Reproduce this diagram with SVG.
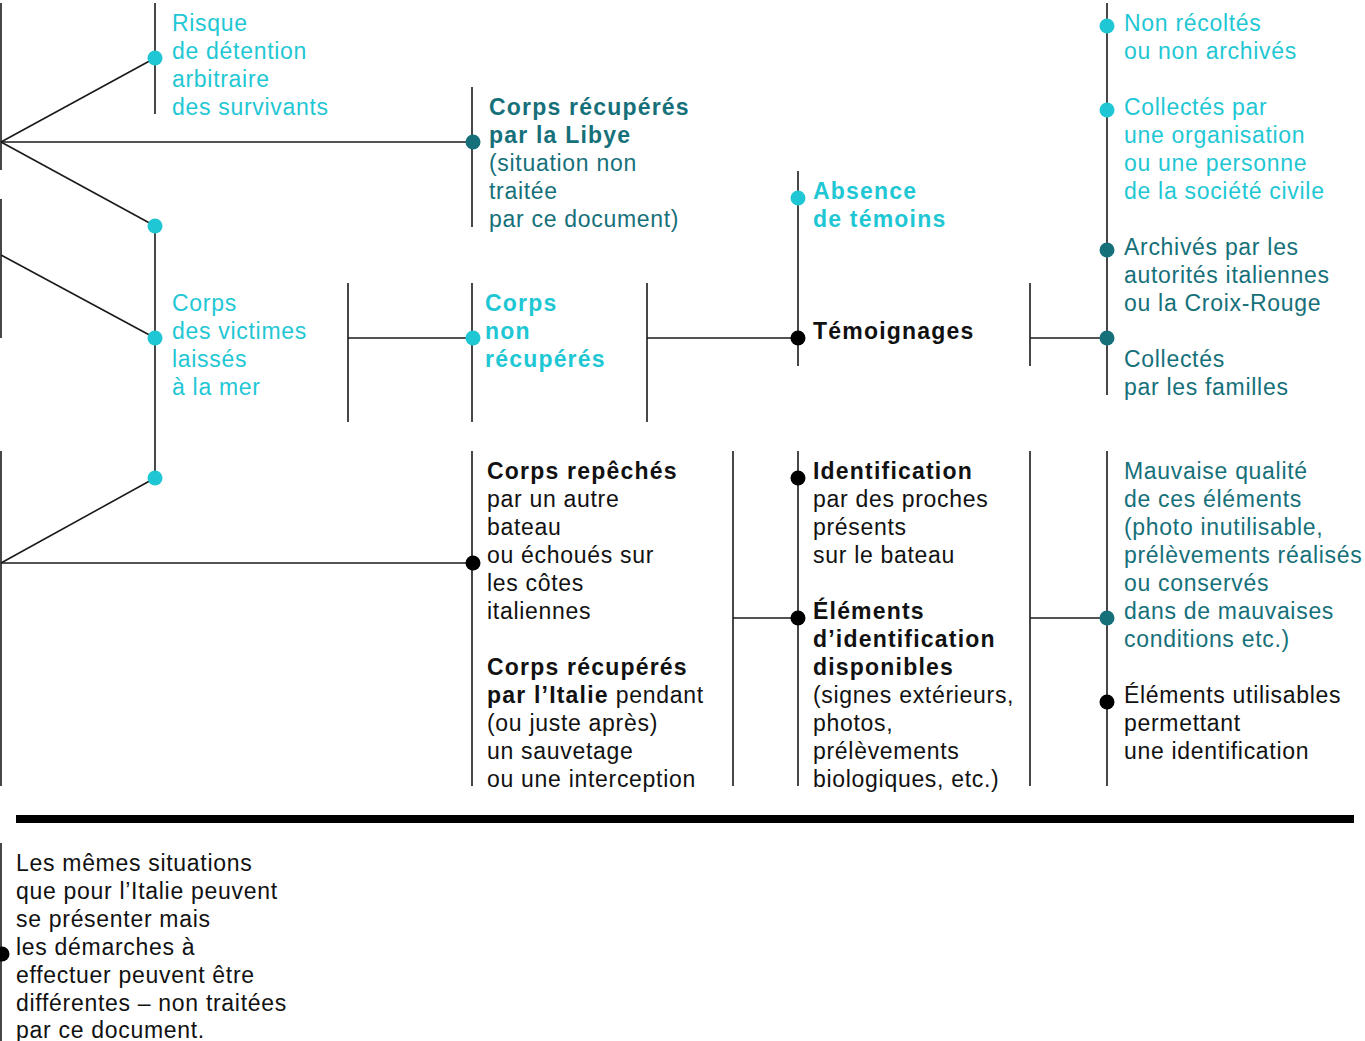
<svg xmlns="http://www.w3.org/2000/svg" width="1365" height="1041" viewBox="0 0 1365 1041">
<style>
  text { font-family: "Liberation Sans", Arial, sans-serif; font-size: 23px; letter-spacing: 0.7px; }
  .cy { fill: #1fc7d4; }
  .tl { fill: #16707a; }
  .bk { fill: #111111; }
  .b { font-weight: bold; letter-spacing: 1.2px; }
  .ln { stroke: #1a1a1a; stroke-width: 1.6; fill: none; }
  .dc { fill: #1fc7d4; }
  .dt { fill: #16707a; }
  .dk { fill: #000000; }
</style>
<rect width="1365" height="1041" fill="#ffffff"/>
<g id="connectors">
  <line class="ln" x1="1" y1="3" x2="1" y2="170"/>
  <line class="ln" x1="1" y1="199" x2="1" y2="338"/>
  <line class="ln" x1="1" y1="451" x2="1" y2="786"/>
  <line class="ln" x1="1" y1="843" x2="1" y2="1041"/>
  <line class="ln" x1="1" y1="142" x2="155" y2="58"/>
  <line class="ln" x1="1" y1="142" x2="473" y2="142"/>
  <line class="ln" x1="1" y1="142" x2="155" y2="226"/>
  <line class="ln" x1="1" y1="255" x2="155" y2="338"/>
  <line class="ln" x1="1" y1="563" x2="155" y2="478"/>
  <line class="ln" x1="1" y1="563" x2="473" y2="563"/>
  <line class="ln" x1="155" y1="3" x2="155" y2="114"/>
  <line class="ln" x1="155" y1="226" x2="155" y2="478"/>
  <line class="ln" x1="472" y1="87" x2="472" y2="227"/>
  <line class="ln" x1="348" y1="283" x2="348" y2="422"/>
  <line class="ln" x1="348" y1="338" x2="472" y2="338"/>
  <line class="ln" x1="472" y1="283" x2="472" y2="422"/>
  <line class="ln" x1="647" y1="283" x2="647" y2="422"/>
  <line class="ln" x1="647" y1="338" x2="798" y2="338"/>
  <line class="ln" x1="798" y1="171" x2="798" y2="366"/>
  <line class="ln" x1="1030" y1="283" x2="1030" y2="366"/>
  <line class="ln" x1="1030" y1="338" x2="1107" y2="338"/>
  <line class="ln" x1="1107" y1="3" x2="1107" y2="395"/>
  <line class="ln" x1="472" y1="451" x2="472" y2="786"/>
  <line class="ln" x1="733" y1="451" x2="733" y2="786"/>
  <line class="ln" x1="733" y1="618" x2="798" y2="618"/>
  <line class="ln" x1="798" y1="451" x2="798" y2="786"/>
  <line class="ln" x1="1030" y1="451" x2="1030" y2="786"/>
  <line class="ln" x1="1030" y1="618" x2="1107" y2="618"/>
  <line class="ln" x1="1107" y1="451" x2="1107" y2="786"/>
  <rect x="16" y="815" width="1338" height="8" fill="#000000"/>
</g>
<g id="risque">
  <circle class="dc" cx="155" cy="58" r="7.5"/>
  <text class="cy"><tspan x="172" y="31">Risque</tspan><tspan x="172" y="59">de détention</tspan><tspan x="172" y="87">arbitraire</tspan><tspan x="172" y="115">des survivants</tspan></text>
</g>
<g id="libye">
  <circle class="dt" cx="473" cy="142" r="7.5"/>
  <text class="tl"><tspan class="b" x="489" y="115">Corps récupérés</tspan><tspan class="b" x="489" y="143">par la Libye</tspan><tspan x="489" y="171">(situation non</tspan><tspan x="489" y="199">traitée</tspan><tspan x="489" y="227">par ce document)</tspan></text>
</g>
<g id="fork-top">
  <circle class="dc" cx="155" cy="226" r="7.5"/>
</g>
<g id="victimes">
  <circle class="dc" cx="155" cy="338" r="7.5"/>
  <text class="cy"><tspan x="172" y="311">Corps</tspan><tspan x="172" y="339">des victimes</tspan><tspan x="172" y="367">laissés</tspan><tspan x="172" y="395">à la mer</tspan></text>
</g>
<g id="fork-bottom">
  <circle class="dc" cx="155" cy="478" r="7.5"/>
</g>
<g id="non-recuperes">
  <circle class="dc" cx="473" cy="338" r="7.5"/>
  <text class="cy b"><tspan x="485" y="311">Corps</tspan><tspan x="485" y="339">non</tspan><tspan x="485" y="367">récupérés</tspan></text>
</g>
<g id="absence">
  <circle class="dc" cx="798" cy="198" r="7.5"/>
  <text class="cy b"><tspan x="813" y="199">Absence</tspan><tspan x="813" y="227">de témoins</tspan></text>
</g>
<g id="temoignages">
  <circle class="dk" cx="798" cy="338" r="7.5"/>
  <text class="bk b"><tspan x="813" y="339">Témoignages</tspan></text>
</g>
<g id="non-recoltes">
  <circle class="dc" cx="1107" cy="26" r="7.5"/>
  <text class="cy"><tspan x="1124" y="31">Non récoltés</tspan><tspan x="1124" y="59">ou non archivés</tspan></text>
</g>
<g id="collectes-civile">
  <circle class="dc" cx="1107" cy="110" r="7.5"/>
  <text class="cy"><tspan x="1124" y="115">Collectés par</tspan><tspan x="1124" y="143">une organisation</tspan><tspan x="1124" y="171">ou une personne</tspan><tspan x="1124" y="199">de la société civile</tspan></text>
</g>
<g id="archives">
  <circle class="dt" cx="1107" cy="250" r="7.5"/>
  <text class="tl"><tspan x="1124" y="255">Archivés par les</tspan><tspan x="1124" y="283">autorités italiennes</tspan><tspan x="1124" y="311">ou la Croix-Rouge</tspan></text>
</g>
<g id="collectes-familles">
  <circle class="dt" cx="1107" cy="338" r="7.5"/>
  <text class="tl"><tspan x="1124" y="367">Collectés</tspan><tspan x="1124" y="395">par les familles</tspan></text>
</g>
<g id="repeches">
  <circle class="dk" cx="473" cy="563" r="7.5"/>
  <text class="bk"><tspan class="b" x="487" y="479">Corps repêchés</tspan><tspan x="487" y="507">par un autre</tspan><tspan x="487" y="535">bateau</tspan><tspan x="487" y="563">ou échoués sur</tspan><tspan x="487" y="591">les côtes</tspan><tspan x="487" y="619">italiennes</tspan><tspan class="b" x="487" y="675">Corps récupérés</tspan><tspan class="b" x="487" y="703">par l’Italie</tspan><tspan> pendant</tspan><tspan x="487" y="731">(ou juste après)</tspan><tspan x="487" y="759">un sauvetage</tspan><tspan x="487" y="787">ou une interception</tspan></text>
</g>
<g id="identification">
  <circle class="dk" cx="798" cy="478" r="7.5"/>
  <text class="bk"><tspan class="b" x="813" y="479">Identification</tspan><tspan x="813" y="507">par des proches</tspan><tspan x="813" y="535">présents</tspan><tspan x="813" y="563">sur le bateau</tspan></text>
</g>
<g id="elements-disponibles">
  <circle class="dk" cx="798" cy="618" r="7.5"/>
  <text class="bk"><tspan class="b" x="813" y="619">Éléments</tspan><tspan class="b" x="813" y="647">d’identification</tspan><tspan class="b" x="813" y="675">disponibles</tspan><tspan x="813" y="703">(signes extérieurs,</tspan><tspan x="813" y="731">photos,</tspan><tspan x="813" y="759">prélèvements</tspan><tspan x="813" y="787">biologiques, etc.)</tspan></text>
</g>
<g id="mauvaise-qualite">
  <circle class="dt" cx="1107" cy="618" r="7.5"/>
  <text class="tl"><tspan x="1124" y="479">Mauvaise qualité</tspan><tspan x="1124" y="507">de ces éléments</tspan><tspan x="1124" y="535">(photo inutilisable,</tspan><tspan x="1124" y="563">prélèvements réalisés</tspan><tspan x="1124" y="591">ou conservés</tspan><tspan x="1124" y="619">dans de mauvaises</tspan><tspan x="1124" y="647">conditions etc.)</tspan></text>
</g>
<g id="utilisables">
  <circle class="dk" cx="1107" cy="702" r="7.5"/>
  <text class="bk"><tspan x="1124" y="703">Éléments utilisables</tspan><tspan x="1124" y="731">permettant</tspan><tspan x="1124" y="759">une identification</tspan></text>
</g>
<g id="autres-pays">
  <circle class="dk" cx="2" cy="954" r="7.5"/>
  <text class="bk"><tspan x="16" y="871">Les mêmes situations</tspan><tspan x="16" y="899">que pour l’Italie peuvent</tspan><tspan x="16" y="927">se présenter mais</tspan><tspan x="16" y="955">les démarches à</tspan><tspan x="16" y="983">effectuer peuvent être</tspan><tspan x="16" y="1011">différentes – non traitées</tspan><tspan x="16" y="1038">par ce document.</tspan></text>
</g>
</svg>
